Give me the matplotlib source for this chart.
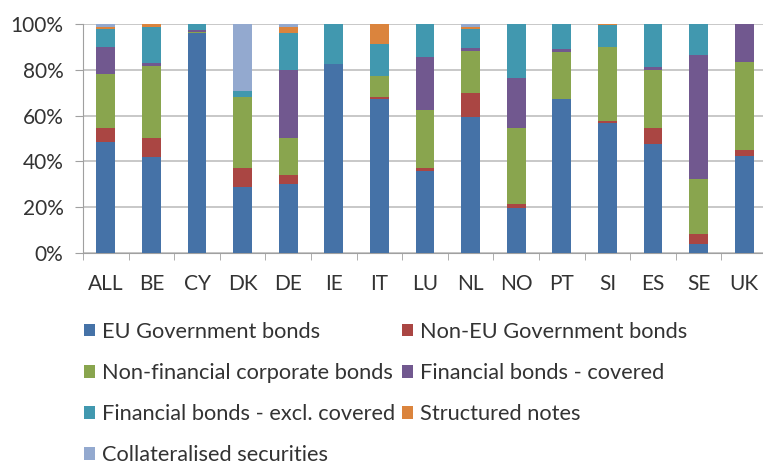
import matplotlib
matplotlib.use("Agg")
import matplotlib.pyplot as plt
import numpy as np
from matplotlib.patches import Patch

plt.rcParams['font.family'] = ['Lato', 'DejaVu Sans']

categories = ["ALL", "BE", "CY", "DK", "DE", "IE", "IT", "LU", "NL", "NO", "PT", "SI", "ES", "SE", "UK"]
series_names = ["EU Government bonds", "Non-EU Government bonds", "Non-financial corporate bonds",
                "Financial bonds - covered", "Financial bonds - excl. covered", "Structured notes",
                "Collateralised securities"]
eu_gov      = [48.6, 41.8, 96.0, 28.7, 30.1, 82.5, 67.2, 35.9, 59.5, 19.8, 67.2, 56.6, 47.5, 3.8, 42.5]
non_eu_gov  = [5.8, 8.3, 0.0, 8.3, 4.0, 0.0, 1.1, 1.3, 10.2, 1.5, 0.0, 1.0, 7.0, 4.5, 2.5]
non_fin     = [23.8, 31.6, 0.6, 31.0, 16.0, 0.0, 9.0, 25.2, 18.5, 33.2, 20.4, 32.5, 25.4, 23.9, 38.2]
fin_covered = [11.9, 1.1, 0.8, 0.0, 29.7, 0.0, 0.0, 23.3, 1.5, 21.8, 1.4, 0.0, 1.2, 54.3, 16.8]
fin_excl    = [7.7, 15.8, 2.6, 2.7, 16.1, 17.5, 13.8, 14.3, 8.0, 23.7, 11.0, 9.5, 18.9, 13.5, 0.0]
structured  = [1.0, 1.4, 0.0, 0.0, 2.9, 0.0, 8.9, 0.0, 0.9, 0.0, 0.0, 0.4, 0.0, 0.0, 0.0]
collat      = [1.2, 0.0, 0.0, 29.3, 1.2, 0.0, 0.0, 0.0, 1.4, 0.0, 0.0, 0.0, 0.0, 0.0, 0.0]
yticks = [0, 20, 40, 60, 80, 100]
ytick_labels = ["0%", "20%", "40%", "60%", "80%", "100%"]

colors = ["#4572A7", "#AA4643", "#89A54E", "#71588F", "#4198AF", "#DB843D", "#93A9CF"]
data = [eu_gov, non_eu_gov, non_fin, fin_covered, fin_excl, structured, collat]
text_color = "#333333"

fig = plt.figure(figsize=(7.63, 4.71), dpi=100)
W, H = 763, 471
left_px, right_px, top_px, bot_px = 83, 767, 24, 253
ax = fig.add_axes([left_px / W, 1 - bot_px / H, (right_px - left_px) / W, (bot_px - top_px) / H])

x = np.arange(len(categories))
bottom = np.zeros(len(categories))
for vals, c, name in zip(data, colors, series_names):
    v = np.array(vals)
    ax.bar(x, v, bottom=bottom, width=0.41, color=c, label=name, zorder=3)
    bottom += v

ax.set_xlim(-0.5, len(categories) - 0.5)
ax.set_ylim(0, 100)
ax.set_yticks(yticks)
ax.set_yticklabels(ytick_labels, fontsize=15, color=text_color)
ax.set_xticks(x)
ax.set_xticklabels(categories, fontsize=15, color=text_color)
ax.tick_params(axis='x', length=0, pad=15)
ax.set_xticks(np.arange(-0.5, len(categories), 1), minor=True)
ax.tick_params(axis='x', which='minor', length=5, color="#A0A0A0", direction='out')
ax.tick_params(axis='y', length=6, color="#A0A0A0", direction='out', pad=8)
ax.yaxis.grid(True, color="#BFBFBF", linewidth=1.2, zorder=0)
for s in ["top", "right"]:
    ax.spines[s].set_visible(False)
ax.spines["left"].set_color("#A0A0A0")
ax.spines["bottom"].set_color("#A0A0A0")

handles = [Patch(facecolor=c, edgecolor='none') for c in colors]
leg_kw = dict(loc="upper left", frameon=False, fontsize=15.7, handlelength=0.5,
              handleheight=0.5, handletextpad=0.32, labelspacing=0.97,
              borderpad=0, borderaxespad=0)
col1 = [0, 2, 4, 6]
col2 = [1, 3, 5]
leg1 = fig.legend([handles[i] for i in col1], [series_names[i] for i in col1],
                  bbox_to_anchor=(84 / W, 1 - 322 / H), **leg_kw)
leg2 = fig.legend([handles[i] for i in col2], [series_names[i] for i in col2],
                  bbox_to_anchor=(402 / W, 1 - 322 / H), **leg_kw)
for lg in (leg1, leg2):
    for t in lg.get_texts():
        t.set_color(text_color)

fig.savefig("out.png", dpi=100)
